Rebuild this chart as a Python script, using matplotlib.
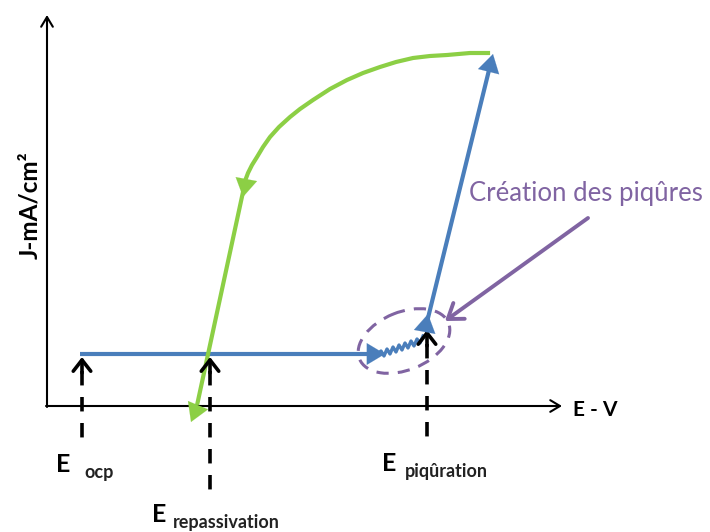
import matplotlib
matplotlib.use("Agg")
import matplotlib.pyplot as plt
from matplotlib.patches import Ellipse

# ---- schematic data (pixel-like diagram coordinates) ----
axis_origin = (47, 406)
x_axis_end = 562
y_axis_end = 15

passive_x = [80, 375]
passive_y = [354, 354]

zig_x = [378, 381, 384, 387, 390, 393, 396, 399, 402, 405, 408, 411, 414, 417, 420, 423]
zig_y = [354, 351, 356, 349, 354, 347, 352, 345, 350, 343, 348, 341, 346, 339, 343, 336]

pit_x = [427, 491]
pit_y = [322, 62]

green_x = [488, 470, 447, 430, 413, 396, 380, 363, 347, 330, 313, 300, 290, 279, 270, 263, 257, 252, 248, 245, 243, 196]
green_y = [53, 53, 55, 56, 58, 62, 67, 73, 80, 89, 100, 109, 117, 127, 137, 147, 157, 165, 173, 181, 192, 410]

E_ocp = 82
E_rep = 210
E_pit = 427
dash_top = [357, 357, 330]
dash_bot = [442, 498, 438]

labels_main = ["E", "E", "E"]
labels_sub = ["ocp", "repassivation", "piqûration"]
main_pos = [(56, 472), (152, 522), (382, 471)]
sub_pos = [(84, 478), (173, 528), (405, 477)]

blue = "#4A7EBB"
green = "#8CCF45"
purple = "#8064A2"

plt.rcParams['font.family'] = ['Lato', 'DejaVu Sans']

fig = plt.figure(figsize=(7.10, 5.32), dpi=100)
ax = fig.add_axes([0, 0, 1, 1])
ax.set_xlim(0, 710)
ax.set_ylim(532, 0)
ax.axis("off")

head = "-|>,head_length=0.5,head_width=0.3"
ms = 26

# axes arrows
ax.annotate("", xy=(axis_origin[0], y_axis_end), xytext=(axis_origin[0], axis_origin[1] + 1),
            arrowprops=dict(arrowstyle="->,head_length=0.5,head_width=0.3", color="black", lw=1.5,
                            mutation_scale=14, shrinkA=0, shrinkB=0))
ax.annotate("", xy=(x_axis_end, axis_origin[1]), xytext=(axis_origin[0] - 1, axis_origin[1]),
            arrowprops=dict(arrowstyle="->,head_length=0.5,head_width=0.3", color="black", lw=1.5,
                            mutation_scale=14, shrinkA=0, shrinkB=0))
ax.text(573, 410, "E - V", fontsize=15, fontweight="bold", va="center", ha="left")
ax.text(30, 205, "J-mA/cm²", fontsize=17.5, fontweight="bold", rotation=90, va="center", ha="center")

# dashed lines
for xv, t, b in zip([E_ocp, E_rep, E_pit], dash_top, dash_bot):
    ax.plot([xv, xv], [t + 14, b], color="black", lw=2.6, ls=(0, (4, 3.2)), solid_capstyle="butt")
    ax.annotate("", xy=(xv, t), xytext=(xv, t + 16),
                arrowprops=dict(arrowstyle="->,head_length=0.45,head_width=0.35", color="black",
                                lw=2.6, mutation_scale=18, shrinkA=0, shrinkB=0))

# blue passive line
ax.plot(passive_x, passive_y, color=blue, lw=3, solid_capstyle="butt")
ax.annotate("", xy=(passive_x[1] + 10, passive_y[1]), xytext=(passive_x[1] - 2, passive_y[1]),
            arrowprops=dict(arrowstyle=head, color=blue, lw=0.1, mutation_scale=ms, shrinkA=0, shrinkB=0))
ax.plot(zig_x, zig_y, color=blue, lw=2.4)
ax.annotate("", xy=(pit_x[0] + 1, pit_y[0] - 8), xytext=(pit_x[0] - 2, pit_y[0] + 8),
            arrowprops=dict(arrowstyle=head, color=blue, lw=0.1, mutation_scale=ms, shrinkA=0, shrinkB=0))
ax.plot(pit_x, pit_y, color=blue, lw=3)
ax.annotate("", xy=(pit_x[1] + 2, pit_y[1] - 8), xytext=(pit_x[1] - 1, pit_y[1] + 4),
            arrowprops=dict(arrowstyle=head, color=blue, lw=0.1, mutation_scale=ms, shrinkA=0, shrinkB=0))

# green reverse curve
ax.plot(green_x, green_y, color=green, lw=3, solid_joinstyle="round")
ax.annotate("", xy=(243, 197), xytext=(246, 181),
            arrowprops=dict(arrowstyle=head, color=green, lw=0.1, mutation_scale=ms, shrinkA=0, shrinkB=0))
ax.annotate("", xy=(191, 422), xytext=(green_x[-1], green_y[-1]),
            arrowprops=dict(arrowstyle=head, color=green, lw=0.1, mutation_scale=ms, shrinkA=0, shrinkB=0))

# pit zone ellipse & annotation
ell = Ellipse((404, 341), 96, 58, angle=-22, fill=False, ec=purple, lw=2.2, ls=(0, (4, 3)))
ax.add_patch(ell)
ax.annotate("", xy=(445, 321), xytext=(588, 218),
            arrowprops=dict(arrowstyle="->,head_length=0.5,head_width=0.35", color=purple, lw=2.8,
                            mutation_scale=20, shrinkA=0, shrinkB=0))
ax.text(469, 193, "Création des piqûres", fontsize=18.5, color=purple, va="center", ha="left")

# labels
for m, s, (mx, my), (sx, sy) in zip(labels_main, labels_sub, main_pos, sub_pos):
    ax.text(mx, my, m, fontsize=18, fontweight="bold", va="baseline", ha="left")
    ax.text(sx, sy, s, fontsize=13, fontweight="bold", va="baseline", ha="left", color="#222222")

fig.savefig("out.png", dpi=100)
